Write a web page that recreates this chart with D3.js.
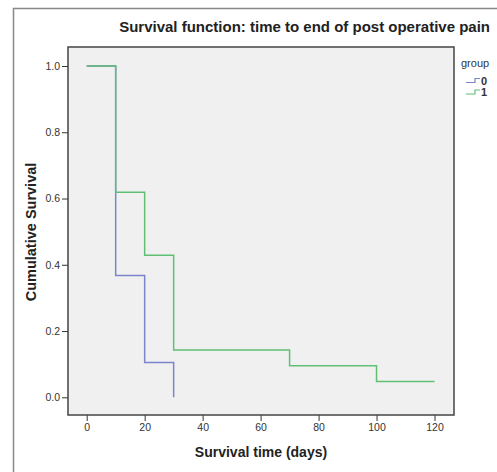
<!DOCTYPE html>
<html>
<head>
<meta charset="utf-8">
<script src="https://cdn.jsdelivr.net/npm/d3@7"></script>
<style>
  body { margin: 0; background: #fff; }
  svg { display: block; font-family: "Liberation Sans", Arial, sans-serif; }
  .tick text { fill: #333; font-size: 10.5px; }
  .tick line { stroke: #333; }
</style>
</head>
<body>
<div id="chart"></div>
<script>
// Kaplan-Meier steps, one array per group
const groups = ["0", "1"];
const times0 = [0, 10, 20, 30];
const surv0 = [1.0, 0.368, 0.105, 0.0];
const end0 = 30;
const times1 = [0, 10, 20, 30, 70, 100];
const surv1 = [1.0, 0.619, 0.429, 0.143, 0.095, 0.048];
const end1 = 120;
const xTicks = [0, 20, 40, 60, 80, 100, 120];
const yTicks = [0.0, 0.2, 0.4, 0.6, 0.8, 1.0];
const colors = ["#7c84cc", "#5fbf74"];

const W = 497, H = 472;
const plot = {left: 68, top: 47, right: 454, bottom: 415};

const svg = d3.select("#chart").append("svg")
    .attr("width", W).attr("height", H);

// outer frame (left and top only visible)
svg.append("path")
    .attr("d", `M13.5,${H} V8.5 H${W}`)
    .attr("fill", "none").attr("stroke", "#888").attr("stroke-width", 1.5);

const x = d3.scaleLinear().domain([0, 120]).range([86.7, 434.5]);
const y = d3.scaleLinear().domain([0, 1]).range([397.3, 66]);

svg.append("rect")
    .attr("x", plot.left).attr("y", plot.top)
    .attr("width", plot.right - plot.left).attr("height", plot.bottom - plot.top)
    .attr("fill", "#f0f0f0");

// x axis
svg.append("g")
    .attr("transform", `translate(0,${plot.bottom})`)
    .call(d3.axisBottom(x).tickValues(xTicks).tickSize(6).tickSizeOuter(0).tickPadding(3))
    .call(g => g.select(".domain").remove());

// y axis
svg.append("g")
    .attr("transform", `translate(${plot.left},0)`)
    .call(d3.axisLeft(y).tickValues(yTicks).tickFormat(d3.format(".1f")).tickSize(6).tickPadding(2))
    .call(g => g.select(".domain").remove());

// step lines
function stepData(times, surv, end) {
  const pts = times.map((t, i) => [t, surv[i]]);
  pts.push([end, surv[surv.length - 1]]);
  return pts;
}
const line = d3.line().x(d => x(d[0])).y(d => y(d[1])).curve(d3.curveStepAfter);

svg.append("path")
    .attr("d", line(stepData(times0, surv0, end0)))
    .attr("fill", "none").attr("stroke", colors[0]).attr("stroke-width", 1.5);
svg.append("path")
    .attr("d", line(stepData(times1, surv1, end1)))
    .attr("fill", "none").attr("stroke", colors[1]).attr("stroke-width", 1.5);

// plot frame
svg.append("rect")
    .attr("x", plot.left).attr("y", plot.top)
    .attr("width", plot.right - plot.left).attr("height", plot.bottom - plot.top)
    .attr("fill", "none").attr("stroke", "#444").attr("stroke-width", 1.5);

// title
svg.append("text")
    .attr("x", 490).attr("y", 32)
    .attr("text-anchor", "end")
    .attr("font-size", 15).attr("font-weight", "bold").attr("fill", "#222")
    .text("Survival function: time to end of post operative pain");

// axis titles
svg.append("text")
    .attr("x", 261).attr("y", 457)
    .attr("text-anchor", "middle")
    .attr("font-size", 14).attr("font-weight", "bold").attr("fill", "#222")
    .text("Survival time (days)");
svg.append("text")
    .attr("transform", "translate(36,232) rotate(-90)")
    .attr("text-anchor", "middle")
    .attr("font-size", 14.5).attr("font-weight", "bold").attr("fill", "#222")
    .text("Cumulative Survival");

// legend
const leg = svg.append("g").attr("transform", "translate(461,0)");
leg.append("text").attr("x", 0).attr("y", 67)
    .attr("font-size", 11).attr("fill", "#333").text("group");
groups.forEach((gName, i) => {
  const cy = 80.5 + i * 11.5;
  leg.append("path")
      .attr("d", `M5,${cy + 2} H14 V${cy - 2} H19`)
      .attr("fill", "none").attr("stroke", colors[i]).attr("stroke-width", 1.2);
  leg.append("text").attr("x", 20).attr("y", cy + 4)
      .attr("font-size", 11).attr("font-weight", "bold").attr("fill", "#333").text(gName);
});
</script>
</body>
</html>
